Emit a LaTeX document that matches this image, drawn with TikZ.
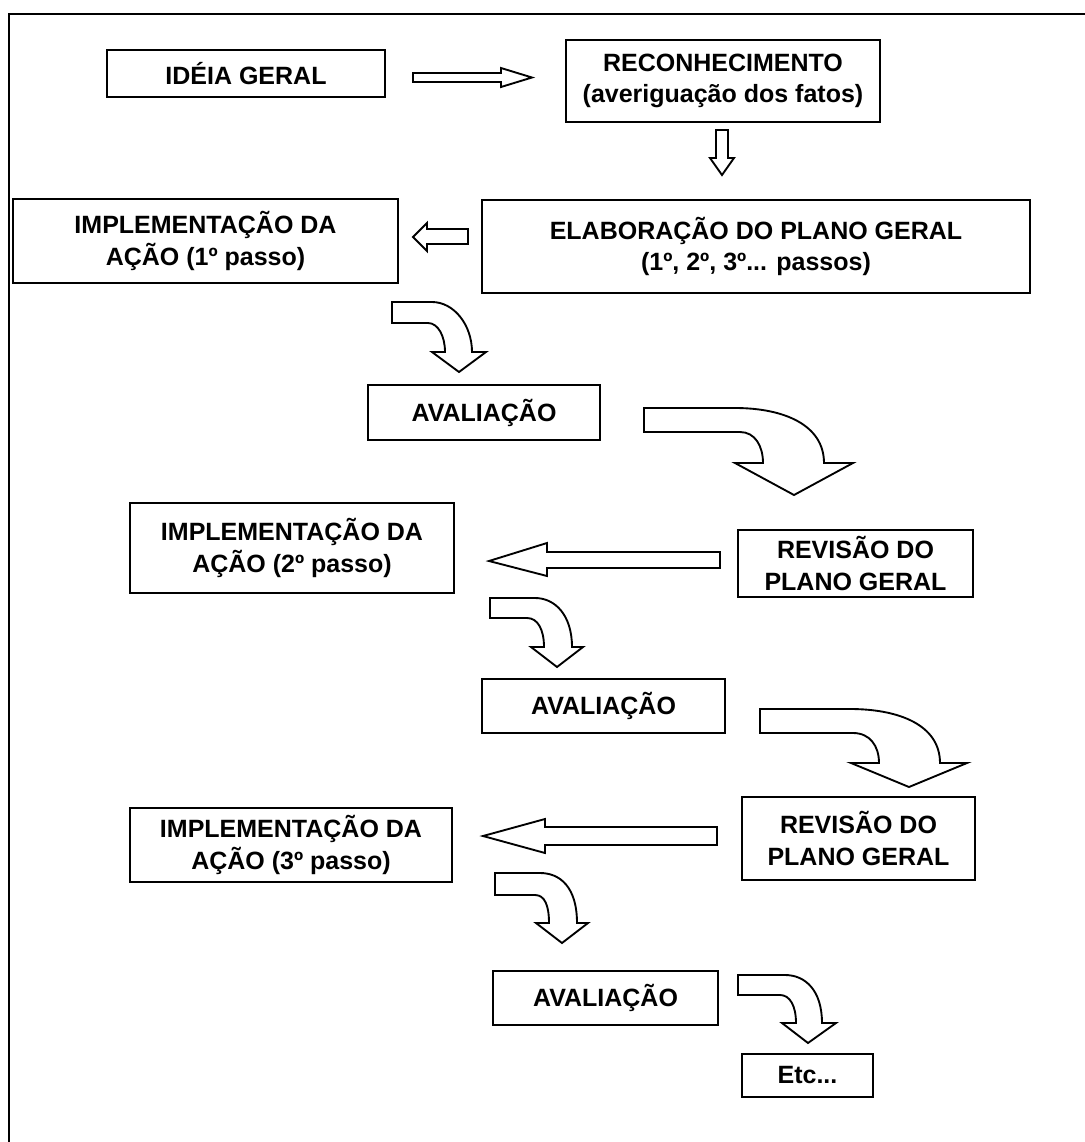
\documentclass[tikz,border=0pt]{standalone}
\usepackage{fontspec}
\setmainfont{Liberation Sans}
\begin{document}
\begin{tikzpicture}[x=0.48pt,y=-0.48pt,
  box/.style={draw,line width=1pt,inner sep=0pt,outer sep=0pt,align=center,font=\bfseries\fontsize{12}{15}\selectfont},
  blk/.style={draw,line width=0.9pt,fill=white,line join=miter},
  sz/.style 2 args={minimum width=#1*0.48pt,minimum height=#2*0.48pt}]
\useasboundingbox (0,0) rectangle (1085,1142);
% frame
\draw[line width=1.3pt] (1090,14) -- (9,14) -- (9,1150);
% boxes (center, size)
\node[box,sz={278}{47}] (idea) at (246,73.5) {IDÉIA GERAL};
\node[box,sz={314}{82}] (rec) at (723,81) {RECONHECIMENTO\\(averiguação dos fatos)};
\node[box,sz={548}{93}] (plan) at (756,246.5) {ELABORAÇÃO DO PLANO GERAL\\(1º, 2º, 3º... passos)};
\node[box,sz={385}{84}] (imp1) at (205.5,241) {IMPLEMENTAÇÃO DA\\AÇÃO (1º passo)};
\node[box,sz={232}{55}] (av1) at (484,412.5) {AVALIAÇÃO};
\node[box,sz={235}{67}] (rev1) at (855.5,563.5) {REVISÃO DO\\PLANO GERAL};
\node[box,sz={324}{90}] (imp2) at (292,548) {IMPLEMENTAÇÃO DA\\AÇÃO (2º passo)};
\node[box,sz={243}{54}] (av2) at (603.5,706) {AVALIAÇÃO};
\node[box,sz={233}{83}] (rev2) at (858.5,838.5) {REVISÃO DO\\PLANO GERAL};
\node[box,sz={322}{74}] (imp3) at (291,845) {IMPLEMENTAÇÃO DA\\AÇÃO (3º passo)};
\node[box,sz={225}{54}] (av3) at (605.5,998) {AVALIAÇÃO};
\node[box,sz={131}{43}] (etc) at (807.5,1075.5) {Etc...};
% straight block arrows
\draw[blk] (413,73) -- (501,73) -- (501,68) -- (532,77.5) -- (501,87) -- (501,82) -- (413,82) -- cycle;
\draw[blk] (716,130) -- (728,130) -- (728,158) -- (734,158) -- (722,175) -- (710,158) -- (716,158) -- cycle;
\draw[blk] (468,229) -- (427,229) -- (427,223) -- (413,237) -- (427,251) -- (427,244) -- (468,244) -- cycle;
\draw[blk] (720,552) -- (547,552) -- (547,543) -- (489,561) -- (547,576) -- (547,568) -- (720,568) -- cycle;
\draw[blk] (717,827) -- (545,827) -- (545,819) -- (483,836) -- (545,853) -- (545,845) -- (717,845) -- cycle;
% bent block arrows
\draw[blk] (392,302) -- (432,302) .. controls (454,302) and (472,325) .. (472,352) -- (486,352) -- (459,372) -- (432,352) -- (445,352) .. controls (445,336) and (438,323) .. (428,323) -- (392,323) -- cycle;
\draw[blk] (644,408) -- (735,408) .. controls (784,408) and (824,425) .. (824,463) -- (853,463) -- (794,495) -- (735,463) -- (763,463) .. controls (763,446) and (755,432) .. (740,432) -- (644,432) -- cycle;
\draw[blk] (490,598) -- (535,598) .. controls (555,598) and (572,615) .. (572,647) -- (583,647) -- (557,667) -- (531,647) -- (544,647) .. controls (544,630) and (538,618) .. (527,618) -- (490,618) -- cycle;
\draw[blk] (760,709) -- (850,709) .. controls (899,709) and (940,725) .. (940,763) -- (967,763) -- (909,787) -- (851,763) -- (879,763) .. controls (879,746) and (870,733) .. (853,733) -- (760,733) -- cycle;
\draw[blk] (495,873) -- (540,873) .. controls (560,873) and (577,887) .. (577,923) -- (588,923) -- (562,943) -- (536,923) -- (549,923) .. controls (549,906) and (545,895) .. (535,895) -- (495,895) -- cycle;
\draw[blk] (738,975) -- (785,975) .. controls (805,975) and (822,990) .. (822,1023) -- (836,1023) -- (808,1043) -- (782,1023) -- (796,1023) .. controls (796,1006) and (790,995) .. (780,995) -- (738,995) -- cycle;
\end{tikzpicture}
\end{document}
